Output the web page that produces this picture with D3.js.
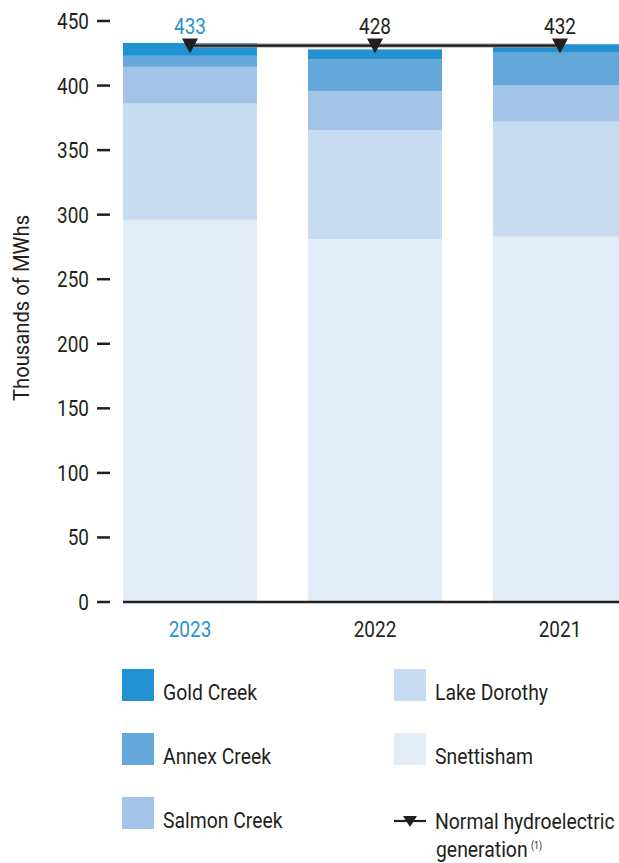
<!DOCTYPE html>
<html>
<head>
<meta charset="utf-8">
<script src="https://cdn.jsdelivr.net/npm/d3@7"></script>
<style>
  body { margin: 0; background: #fff; }
  svg text { font-family: Roboto, "Liberation Sans", sans-serif; fill: #231f20; font-size: 22px; }
</style>
</head>
<body>
<svg id="chart" width="619" height="863"></svg>
<script>
// --- data (thousands of MWh)
var years = ['2023', '2022', '2021'];
var series = ['Snettisham', 'Lake Dorothy', 'Salmon Creek', 'Annex Creek', 'Gold Creek'];
var snettisham = [296, 281, 283];
var lakeDorothy = [90, 84.5, 89];
var salmonCreek = [28.5, 30, 28];
var annexCreek = [8.5, 25, 26];
var goldCreek = [10, 7.5, 6];
var totals = [433, 428, 432];
var normalGen = 431;
var yTicks = [0, 50, 100, 150, 200, 250, 300, 350, 400, 450];

var colors = {
  'Gold Creek': '#2292d3',
  'Annex Creek': '#64a7da',
  'Salmon Creek': '#a3c4e6',
  'Lake Dorothy': '#c7dcf1',
  'Snettisham': '#e1ecf7'
};
var blue = '#2b93d1';
var ink = '#231f20';
var squeeze = 0.88;   // the original font is a condensed face

// build table for stack
var table = years.map(function(y, i) {
  return {
    year: y,
    'Snettisham': snettisham[i],
    'Lake Dorothy': lakeDorothy[i],
    'Salmon Creek': salmonCreek[i],
    'Annex Creek': annexCreek[i],
    'Gold Creek': goldCreek[i]
  };
});

var svg = d3.select('#chart');

// place a text with a narrower width
function at(px, py) {
  return 'translate(' + px + ',' + py + ') scale(' + squeeze + ',1)';
}

// bars at 123, 308, 493 with width 134
var x = d3.scaleBand()
    .domain(years)
    .range([123, 627])
    .paddingInner(51 / 185)
    .paddingOuter(0);

var y = d3.scaleLinear()
    .domain([0, 450])
    .range([602, 21]);

var layers = d3.stack().keys(series)(table);

// bars
svg.append('g')
  .selectAll('g')
  .data(layers).enter()
  .append('g')
    .attr('fill', function(d) { return colors[d.key]; })
  .selectAll('rect')
  .data(function(d) { return d; }).enter()
  .append('rect')
    .attr('x', function(d) { return x(d.data.year); })
    .attr('y', function(d) { return y(d[1]); })
    .attr('width', x.bandwidth())
    .attr('height', function(d) { return y(d[0]) - y(d[1]); });

// y axis ticks
var yAxis = svg.append('g');
yAxis.selectAll('line')
  .data(yTicks).enter()
  .append('line')
    .attr('x1', 97).attr('x2', 110)
    .attr('y1', y).attr('y2', y)
    .attr('stroke', ink)
    .attr('stroke-width', 2.5);
yAxis.selectAll('text')
  .data(yTicks).enter()
  .append('text')
    .attr('transform', function(d) { return at(89, y(d) + 8); })
    .attr('text-anchor', 'end')
    .style('font-size', '21.5px')
    .text(function(d) { return d; });

// baseline
svg.append('line')
  .attr('x1', 123).attr('x2', 619)
  .attr('y1', y(0)).attr('y2', y(0))
  .attr('stroke', ink)
  .attr('stroke-width', 2.5);

// y title
svg.append('text')
  .attr('transform', 'translate(29,308) rotate(-90) scale(0.92,1)')
  .attr('text-anchor', 'middle')
  .style('font-size', '22px')
  .text('Thousands of MWhs');

var cx = function(d) { return x(d) + x.bandwidth() / 2; };

// x labels
svg.append('g').selectAll('text')
  .data(years).enter()
  .append('text')
    .attr('transform', function(d) { return at(cx(d), 637); })
    .attr('text-anchor', 'middle')
    .style('font-size', '21.5px')
    .style('fill', function(d, i) { return i === 0 ? blue : ink; })
    .text(function(d) { return d; });

// total labels
svg.append('g').selectAll('text')
  .data(years).enter()
  .append('text')
    .attr('transform', function(d) { return at(cx(d), 34); })
    .attr('text-anchor', 'middle')
    .style('font-size', '21.5px')
    .style('fill', function(d, i) { return i === 0 ? blue : ink; })
    .text(function(d, i) { return totals[i]; });

// normal generation line
var ny = y(normalGen);
svg.append('line')
  .attr('x1', cx(years[0])).attr('x2', cx(years[years.length - 1]))
  .attr('y1', ny).attr('y2', ny)
  .attr('stroke', '#9a9a9a')
  .attr('stroke-width', 4);
svg.append('line')
  .attr('x1', cx(years[0])).attr('x2', cx(years[years.length - 1]))
  .attr('y1', ny).attr('y2', ny)
  .attr('stroke', ink)
  .attr('stroke-width', 2.2);

function triangle(px, top, w, h) {
  return 'M' + (px - w / 2) + ',' + top + 'L' + (px + w / 2) + ',' + top + 'L' + px + ',' + (top + h) + 'Z';
}
svg.append('g').selectAll('path')
  .data(years).enter()
  .append('path')
    .attr('d', function(d) { return triangle(cx(d), ny - 7, 16, 15); })
    .attr('fill', ink);

// legend
var legLeft = ['Gold Creek', 'Annex Creek', 'Salmon Creek'];
var legRight = ['Lake Dorothy', 'Snettisham'];
var legY = [669, 733, 797];

function legendItems(keys, lx) {
  var g = svg.append('g');
  g.selectAll('rect')
    .data(keys).enter()
    .append('rect')
      .attr('x', lx)
      .attr('y', function(d, i) { return legY[i]; })
      .attr('width', 32).attr('height', 32)
      .attr('fill', function(d) { return colors[d]; });
  g.selectAll('text')
    .data(keys).enter()
    .append('text')
      .attr('transform', function(d, i) { return at(lx + 41, legY[i] + 31); })
      .text(function(d) { return d; });
}
legendItems(legLeft, 122);
legendItems(legRight, 394);

// normal line legend
var ly = 821;
svg.append('line')
  .attr('x1', 394).attr('x2', 426)
  .attr('y1', ly).attr('y2', ly)
  .attr('stroke', ink).attr('stroke-width', 2.2);
svg.append('path')
  .attr('d', triangle(410, ly - 5, 14, 11))
  .attr('fill', ink);
svg.append('text')
  .attr('transform', at(435, 829))
  .text('Normal hydroelectric');
var gen = svg.append('text')
  .attr('transform', at(436, 857))
  .text('generation');
gen.append('tspan')
  .attr('dx', 4).attr('dy', -8)
  .style('font-size', '10px')
  .text('(1)');
</script>
</body>
</html>
